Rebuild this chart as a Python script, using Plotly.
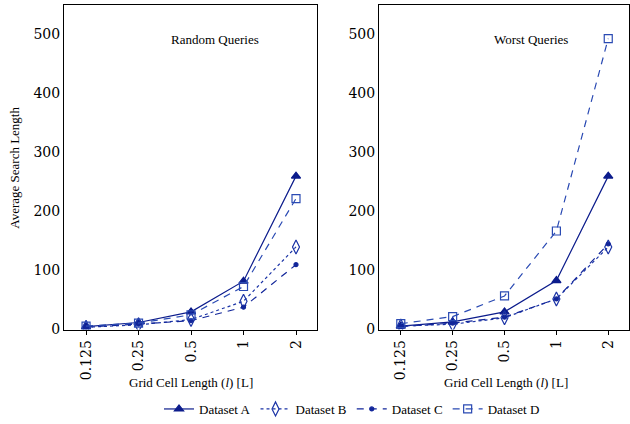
import plotly.graph_objects as go

categories = ["0.125", "0.25", "0.5", "1", "2"]

random_a = [5, 12, 30, 82, 260]
random_b = [4, 8, 17, 48, 140]
random_c = [4, 9, 15, 38, 110]
random_d = [6, 11, 25, 73, 222]

worst_a = [6, 13, 30, 83, 260]
worst_b = [6, 9, 20, 52, 140]
worst_c = [5, 11, 21, 52, 145]
worst_d = [10, 22, 57, 167, 493]

series_names = ["Dataset A", "Dataset B", "Dataset C", "Dataset D"]
panel_titles = ["Random Queries", "Worst Queries"]

styles = [
    dict(color="#0c1c8c", dash="solid", symbol="triangle-up", size=8),
    dict(color="#1a33a6", dash="dot", symbol="diamond-tall-open", size=10),
    dict(color="#12269a", dash="7px,6px", symbol="circle", size=4),
    dict(color="#2a4ab3", dash="7px,6px", symbol="square-open", size=8),
]

fig = go.Figure()

panels = [
    ([random_a, random_b, random_c, random_d], "x", "y", True),
    ([worst_a, worst_b, worst_c, worst_d], "x2", "y2", False),
]

for data, xa, ya, show in panels:
    for name, vals, st in zip(series_names, data, styles):
        fig.add_trace(go.Scatter(
            x=categories, y=vals, name=name, mode="lines+markers",
            xaxis=xa, yaxis=ya, showlegend=show,
            line=dict(color=st["color"], dash=st["dash"], width=1.2),
            marker=dict(symbol=st["symbol"], size=st["size"], color=st["color"],
                        line=dict(color=st["color"], width=1.2)),
        ))

W, H = 630, 424
KY = 424 / 412.0
def px(x):
    return x / W
def py(y):
    return (H - y * KY) / H

axis_common = dict(
    showline=True, linecolor="black", linewidth=1, mirror=True,
    showgrid=False, zeroline=False,
    tickfont=dict(family="DejaVu Serif", size=14, color="black"),
)

fig.update_layout(
    width=W, height=H,
    margin=dict(l=0, r=0, t=0, b=0),
    paper_bgcolor="white", plot_bgcolor="white",
    font=dict(family="Liberation Serif", size=13, color="black"),
    xaxis=dict(domain=[px(64), px(317)], anchor="y", type="category",
               range=[-0.42, 4.4], ticks="outside", ticklen=4, tickcolor="black",
               tickangle=-90, **axis_common),
    yaxis=dict(domain=[py(332), py(5)], anchor="x", range=[0, 550],
               tickvals=[0, 100, 200, 300, 400, 500], ticks="", **axis_common),
    xaxis2=dict(domain=[px(379), px(629)], anchor="y2", type="category",
                range=[-0.42, 4.4], ticks="outside", ticklen=4, tickcolor="black",
                tickangle=-90, **axis_common),
    yaxis2=dict(domain=[py(332), py(5)], anchor="x2", range=[0, 550],
                tickvals=[0, 100, 200, 300, 400, 500], ticks="", **axis_common),
    legend=dict(orientation="h", x=px(352), xanchor="center", y=py(412), yanchor="middle",
                font=dict(family="Liberation Serif", size=13, color="black"),
                bgcolor="rgba(0,0,0,0)"),
)

annotations = [
    dict(text=panel_titles[0], x=px(215), y=py(40)),
    dict(text=panel_titles[1], x=px(531), y=py(40)),
    dict(text="Grid Cell Length (<i>l</i>) [L]", x=px(191), y=py(385)),
    dict(text="Grid Cell Length (<i>l</i>) [L]", x=px(506), y=py(385)),
    dict(text="Average Search Length", x=px(15), y=py(169), textangle=-90),
]
for a in annotations:
    fig.add_annotation(xref="paper", yref="paper", showarrow=False,
                       xanchor="center", yanchor="middle",
                       font=dict(family="Liberation Serif", size=13, color="black"), **a)

fig.write_html("out.html")
